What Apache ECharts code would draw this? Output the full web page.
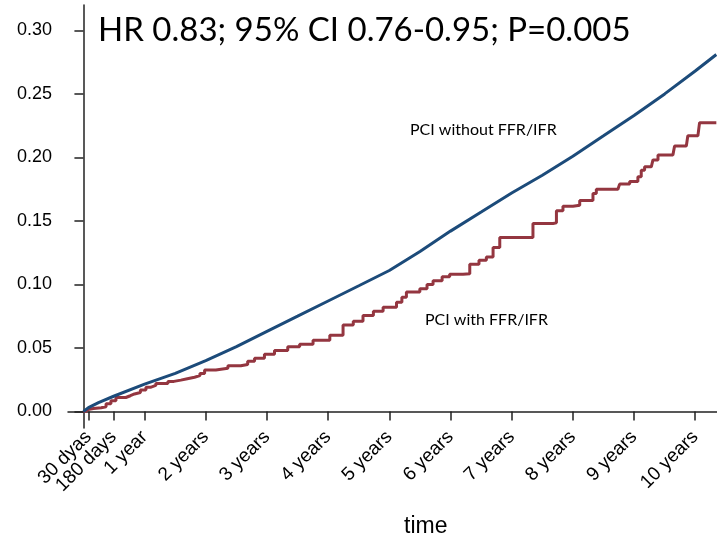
<!DOCTYPE html>
<html>
<head>
<meta charset="utf-8">
<script src="https://cdn.jsdelivr.net/npm/echarts@6/dist/echarts.min.js"></script>
<style>
  html, body { margin: 0; padding: 0; background: #fff; }
  #chart { width: 717px; height: 540px; }
</style>
</head>
<body>
<div id="chart"></div>
<script>
// time in days since PCI, cumulative incidence
var tickDays = [30, 180, 365, 730, 1095, 1460, 1825, 2190, 2555, 2920, 3285, 3650];
var tickLabels = ["30 dyas", "180 days", "1 year", "2 years", "3 years", "4 years",
  "5 years", "6 years", "7 years", "8 years", "9 years", "10 years"];
var yTicks = [0, 0.05, 0.10, 0.15, 0.20, 0.25, 0.30];

var withoutFFR = [
  [0, 0], [30, 0.003], [90, 0.007], [180, 0.012], [365, 0.0215], [548, 0.030],
  [730, 0.040], [913, 0.051], [1095, 0.063], [1278, 0.075], [1460, 0.087],
  [1643, 0.099], [1825, 0.111], [2008, 0.126], [2190, 0.142], [2373, 0.157],
  [2555, 0.172], [2738, 0.186], [2920, 0.201], [3103, 0.217], [3285, 0.233],
  [3468, 0.250], [3650, 0.268], [3776, 0.281]
];

var withFFR = [
  [0, 0], [14, 0.0015], [27, 0.0024], [60, 0.003], [106, 0.0037], [135, 0.006],
  [164, 0.0085], [194, 0.011], [253, 0.0124], [280, 0.0138], [305, 0.015],
  [340, 0.017], [373, 0.019], [400, 0.0205], [432, 0.0221], [504, 0.0237],
  [540, 0.0247], [581, 0.0258], [620, 0.027], [663, 0.0282], [695, 0.030],
  [723, 0.0327], [790, 0.034], [862, 0.036], [939, 0.037], [980, 0.0395],
  [1021, 0.042], [1080, 0.045], [1140, 0.048], [1219, 0.051], [1290, 0.053],
  [1370, 0.056], [1470, 0.060], [1549, 0.068], [1610, 0.071], [1668, 0.0755],
  [1730, 0.079], [1788, 0.082], [1868, 0.086], [1900, 0.090], [1927, 0.094],
  [2007, 0.0966], [2050, 0.100], [2086, 0.103], [2140, 0.106], [2185, 0.108],
  [2265, 0.1085], [2305, 0.116], [2360, 0.119], [2404, 0.1216], [2444, 0.129],
  [2484, 0.137], [2623, 0.137], [2682, 0.148], [2802, 0.1485], [2822, 0.158],
  [2861, 0.1616], [2921, 0.1624], [2961, 0.166], [3040, 0.1716], [3060, 0.175],
  [3189, 0.175], [3199, 0.179], [3259, 0.181], [3308, 0.1847], [3328, 0.19],
  [3348, 0.1926], [3388, 0.193], [3398, 0.198], [3428, 0.202], [3517, 0.202],
  [3527, 0.209], [3597, 0.209], [3606, 0.217], [3666, 0.217], [3676, 0.2274],
  [3776, 0.2274]
];

var xMin = -92;
// an empty label at the axis minimum keeps echarts from dropping "180 days"
var labelDays = [xMin].concat(tickDays);

var myChart = echarts.init(document.getElementById("chart"));

var axisColor = "#222";

var option = {
  animation: false,
  grid: { left: 68, right: 0, top: 5, bottom: 112 },
  xAxis: {
    type: "value",
    min: xMin,
    max: 3780,
    splitLine: { show: false },
    axisLine: { lineStyle: { color: axisColor, width: 1.5 } },
    axisTick: {
      customValues: tickDays,
      length: 9,
      lineStyle: { color: axisColor, width: 1.5 }
    },
    axisLabel: {
      customValues: labelDays,
      interval: 0,
      hideOverlap: false,
      showMinLabel: false,
      rotate: 45,
      margin: 6,
      fontFamily: "Liberation Sans",
      fontSize: 19,
      color: "#000",
      formatter: function (v) {
        var i = tickDays.indexOf(v);
        return i >= 0 ? tickLabels[i] : "";
      }
    }
  },
  yAxis: {
    type: "value",
    min: -0.013,
    max: 0.32,
    splitLine: { show: false },
    axisLine: { show: true, lineStyle: { color: axisColor, width: 1.5 } },
    axisTick: {
      show: true,
      customValues: yTicks,
      length: 9,
      lineStyle: { color: axisColor, width: 1.5 }
    },
    axisLabel: {
      customValues: yTicks,
      margin: 16,
      fontFamily: "Liberation Sans",
      fontSize: 18,
      color: "#000",
      formatter: function (v) {
        return v.toFixed(2);
      }
    }
  },
  graphic: [
    {
      type: "text",
      left: 98,
      top: 14,
      style: {
        text: "HR 0.83; 95% CI 0.76-0.95; P=0.005",
        font: "33px Lato",
        fill: "#000"
      }
    },
    {
      type: "text",
      left: 410,
      top: 122,
      style: { text: "PCI without FFR/IFR", font: "16px Lato", fill: "#000" }
    },
    {
      type: "text",
      left: 425,
      top: 312,
      style: { text: "PCI with FFR/IFR", font: "16px Lato", fill: "#000" }
    },
    {
      type: "text",
      left: 404,
      top: 515,
      style: { text: "time", font: "23px Liberation Sans", fill: "#000" }
    }
  ],
  series: [
    {
      name: "PCI without FFR/IFR",
      type: "line",
      data: withoutFFR,
      showSymbol: false,
      lineStyle: { color: "#1c4b7a", width: 3 },
      z: 3
    },
    {
      name: "PCI with FFR/IFR",
      type: "line",
      step: "end",
      data: withFFR,
      showSymbol: false,
      lineStyle: { color: "#943640", width: 3 },
      z: 2
    }
  ]
};

myChart.setOption(option);
</script>
</body>
</html>
